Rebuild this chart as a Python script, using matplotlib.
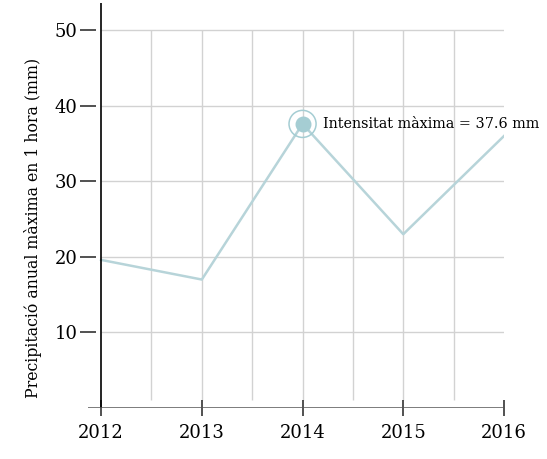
import matplotlib.pyplot as plt
import numpy as np

plt.rcParams['font.family'] = ['DejaVu Serif']

# dades
anys = [2012, 2013, 2014, 2015, 2016]
precipitacio = [19.6, 17.0, 37.6, 23.0, 36.0]
y_ticks = [10, 20, 30, 40, 50]
max_any = 2014
max_valor = 37.6

fig = plt.figure(figsize=(5.47, 4.59), dpi=100)
ax = fig.add_axes([88 / 547, (459 - 408) / 459, (504 - 88) / 547, (408 - 3) / 459])
ax.set_xlim(2011.87, 2016)
ax.set_ylim(0, 53.6)

# graella
mitjos = np.arange(2012.5, 2016, 0.5)
ax.vlines(mitjos, 1.0, 50, color='#d2d2d2', lw=1.0, zorder=1)
ax.hlines(y_ticks, 2012, 2016, color='#d2d2d2', lw=1.0, zorder=1)

# linia
ax.plot(anys, precipitacio, color='#b7d4d9', lw=1.8, zorder=3)

# maxim
ax.scatter([max_any], [max_valor], s=110, color='#a5cdd3', zorder=4)
ax.scatter([max_any], [max_valor], s=380, facecolor='none', edgecolor='#a5cdd3', lw=1.1, zorder=4)
ax.annotate('Intensitat màxima = 37.6 mm', (max_any, max_valor), xytext=(15, 0),
            textcoords='offset points', va='center', ha='left', fontsize=10.4)

# eixos
for s in ['top', 'right', 'left', 'bottom']:
    ax.spines[s].set_visible(False)
ax.axvline(2012, color='black', lw=1.2, zorder=5)
ax.axhline(0, color='#555555', lw=1.8, zorder=5)

ax.set_xticks(anys)
ax.set_xticklabels([str(a) for a in anys], fontsize=13)
ax.set_yticks(y_ticks)
ax.set_yticklabels([str(v) for v in y_ticks], fontsize=13)
ax.tick_params(axis='both', direction='inout', length=11, width=1.1, color='#222222')
ax.tick_params(axis='x', pad=6)
ax.tick_params(axis='y', pad=2)
ax.set_ylabel('Precipitació anual màxima en 1 hora (mm)', fontsize=11.3)
ax.yaxis.set_label_coords(-0.11, 0.444)

fig.savefig('out.png', dpi=100)
